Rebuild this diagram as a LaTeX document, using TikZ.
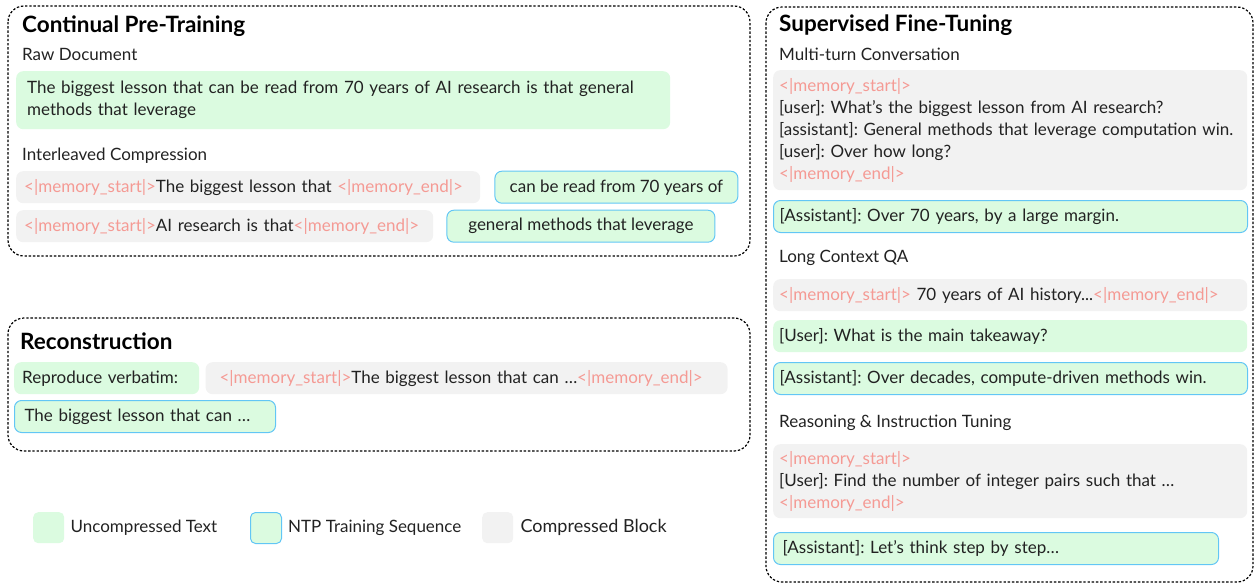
\documentclass[tikz,border=0pt]{standalone}
\usepackage{fontspec}
\setmainfont{Lato}
\usetikzlibrary{positioning}

\definecolor{ucgreen}{HTML}{DBFBE0}
\definecolor{ntpblue}{HTML}{62C6F5}
\definecolor{cmpgray}{HTML}{F2F2F2}
\definecolor{memred}{HTML}{F59A94}
\definecolor{txtgray}{HTML}{222222}
\newcommand{\memtok}[1]{\textcolor{memred}{<|memory\_#1|>}}
\frenchspacing

\begin{document}
\begin{tikzpicture}[x=1pt, y=-1pt,
      every node/.style={font=\fontsize{17}{22}\selectfont, text=txtgray},
      grp/.style={draw, line width=1.2pt, dash pattern=on 2.4pt off 1.8pt, rounded corners=16pt},
      ttl/.style={anchor=west, inner sep=0pt, font=\fontsize{22.5}{24}\selectfont\bfseries, text=black},
      sub/.style={anchor=west, inner sep=0pt},
      cmp/.style={anchor=north west, fill=cmpgray, rounded corners=7pt, inner xsep=8pt,
                  inner ysep=0pt, minimum height=32pt, align=left},
      unc/.style={cmp, fill=ucgreen},
      ntp/.style={unc, draw=ntpblue, line width=1pt},
      key/.style={anchor=north west, minimum size=31pt, inner sep=0pt, rounded corners=5pt}]

    \useasboundingbox (0,0) rectangle (1255,584);

    % ============================
    % GROUP FRAMES
    % ============================
    \draw[grp] (8,6) rectangle (750,256);
    \draw[grp] (8,318) rectangle (750,451);
    \draw[grp] (766,7) rectangle (1253,582);

    % ============================
    % CONTINUAL PRE-TRAINING
    % ============================
    \node[ttl] (cpt) at (22,26) {Continual Pre-Training};
    \node[sub] (rawlbl) at (22,54) {Raw Document};
    \node[unc, inner xsep=11pt, text width=632pt, minimum height=58pt] (raw) at (16,71)
      {The biggest lesson that can be read from 70 years of AI research is that general\\
       methods that leverage};

    \node[sub] (ilvlbl) at (22,156) {Interleaved Compression};
    \node[cmp, text width=448pt] (mem1) at (16,171)
      {\memtok{start}The biggest lesson that \memtok{end}};
    \node[ntp, minimum width=243pt, right=14pt of mem1] (seq1) {can be read from 70 years of};
    \node[cmp, text width=401pt] (mem2) at (16,210)
      {\memtok{start}AI research is that\memtok{end}};
    \node[ntp, minimum width=268pt, right=13pt of mem2] (seq2) {general methods that leverage};

    % ============================
    % RECONSTRUCTION
    % ============================
    \node[ttl] (rec) at (20,341) {Reconstruction};
    \node[unc, text width=169pt] (verb) at (14,362) {Reproduce verbatim:};
    \node[cmp, inner xsep=14pt, text width=494pt, right=6pt of verb] (recmem)
      {\memtok{start}The biggest lesson that can \ldots\memtok{end}};
    \node[ntp, inner xsep=10pt, text width=241pt] (recout) at (14,400)
      {The biggest lesson that can \ldots};

    % ============================
    % LEGEND
    % ============================
    \node[key, fill=ucgreen] (kunc) at (33,512) {};
    \node[sub, right=6pt of kunc] {Uncompressed Text};
    \node[key, fill=ucgreen, draw=ntpblue, line width=1pt] (kntp) at (250,512) {};
    \node[sub, right=6pt of kntp] {NTP Training Sequence};
    \node[key, fill=cmpgray] (kcmp) at (482,512) {};
    \node[sub, right=7pt of kcmp, font=\fontsize{18}{22}\selectfont] {Compressed Block};

    % ============================
    % SUPERVISED FINE-TUNING
    % ============================
    \node[ttl] (sft) at (779,25) {Supervised Fine-Tuning};

    \node[sub] (mtlbl) at (779,54) {Multi-turn Conversation};
    \node[cmp, inner xsep=6pt, text width=462pt, minimum height=120pt] (mtctx) at (773,70)
      {\memtok{start}\\
       {[user]}: What's the biggest lesson from AI research?\\
       {[assistant]}: General methods that leverage computation win.\\
       {[user]}: Over how long?\\
       \memtok{end}};
    \node[ntp, inner xsep=6pt, text width=462pt] (mtans) at (773,200)
      {[Assistant]: Over 70 years, by a large margin.};

    \node[sub] (lclbl) at (779,258) {Long Context QA};
    \node[cmp, inner xsep=6pt, text width=462pt] (lcctx) at (773,279)
      {\memtok{start} 70 years of AI history...\memtok{end}};
    \node[unc, inner xsep=6pt, text width=462pt] (lcq) at (773,320)
      {[User]: What is the main takeaway?};
    \node[ntp, inner xsep=6pt, text width=462pt] (lcans) at (773,362)
      {[Assistant]: Over decades, compute-driven methods win.};

    \node[sub] (rslbl) at (779,423) {Reasoning \& Instruction Tuning};
    \node[cmp, inner xsep=6pt, text width=462pt, minimum height=74pt] (rsctx) at (773,444)
      {\memtok{start}\\
       {[User]}: Find the number of integer pairs such that \ldots\\
       \memtok{end}};
    \node[ntp, inner xsep=9pt, text width=427pt] (rsans) at (773,532)
      {[Assistant]: Let’s think step by step\ldots};

\end{tikzpicture}
\end{document}
